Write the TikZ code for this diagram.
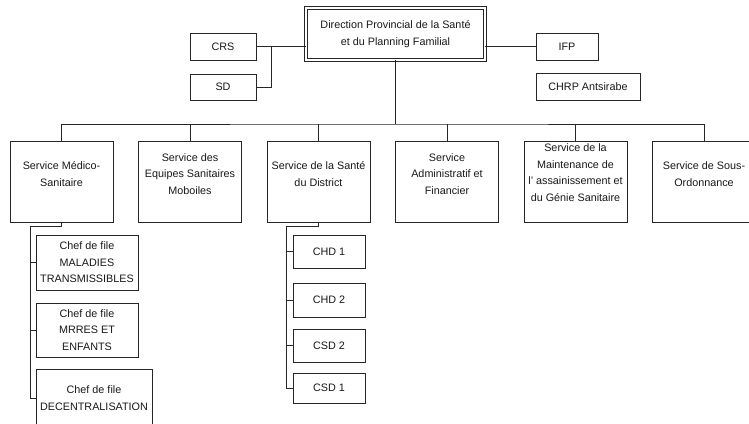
\documentclass[tikz,border=0pt]{standalone}
\usepackage{fontspec}
\setmainfont{Liberation Sans}
\usetikzlibrary{calc}
\begin{document}
\begin{tikzpicture}[x=1pt,y=-1pt,
  box/.style={draw=black!85, line width=0.95pt, inner sep=0pt, align=center,
    font=\fontsize{10.8}{16.5}\selectfont, text=black!90},
  txt/.style={align=center, font=\fontsize{10.8}{16.5}\selectfont, text=black!90, inner sep=0pt},
  svc/.style={box, minimum width=103pt, minimum height=81pt},
  chef/.style={box, minimum width=102pt},
  dist/.style={box, minimum width=72pt},
  conn/.style={draw=black!85, line width=0.95pt}]
\useasboundingbox (0,0) rectangle (749,423);
\clip (0,0) rectangle (749,423);
\fill[white] (0,0) rectangle (749,423);

% top level
\node[box, double, double distance=1.6pt, line width=0.9pt,
      minimum width=179pt, minimum height=52pt] (top) at (395.5,34)
  {Direction Provincial de la Santé\\et du Planning Familial};
\node[box, minimum width=66pt, minimum height=27pt] (crs) at (223,46.5) {CRS};
\node[box, minimum width=66pt, minimum height=26pt] (sd) at (223,87) {SD};
\node[box, minimum width=62pt, minimum height=27pt] (ifp) at (567,46.5) {IFP};
\node[box, minimum width=104pt, minimum height=27pt] (chrp) at (588,86.5) {CHRP Antsirabe};

\coordinate (j1) at ($(crs.east)+(15,0)$);
\draw[conn] (crs.east) -- (crs.east -| top.west);
\draw[conn] (sd.east) -| (j1);
\draw[conn] (ifp.west) -- (ifp.west -| top.east);

% services
\node[svc] (s1) at (61.5,181.5) {};
\node[svc] (s2) at (190,181.5) {};
\node[svc] (s3) at (318.5,181.5) {};
\node[svc] (s4) at (447,181.5) {};
\node[svc] (s5) at (575.5,181.5) {};
\node[svc] (s6) at (704,181.5) {};
\node[txt] (t1) at ([yshift=7.5pt]s1.center) {Service Médico-\\Sanitaire};
\node[txt] (t2) at ([yshift=7.5pt]s2.center) {Service des\\Equipes Sanitaires\\Moboiles};
\node[txt] (t3) at ([yshift=7.5pt]s3.center) {Service de la Santé\\du District};
\node[txt] (t4) at ([yshift=7.5pt]s4.center) {Service\\Administratif et\\Financier};
\node[txt] (t5) at ([yshift=9pt]s5.center) {Service de la\\Maintenance de\\l' assainissement et\\du Génie Sanitaire};
\node[txt] (t6) at ([yshift=7.5pt]s6.center) {Service de Sous-\\Ordonnance};

\coordinate (bus) at (395.5,124);
\draw[conn] (top.south) -- (bus);
\draw[conn] (s1.north) |- (bus) -| (s6.north);
\draw[conn] (s2.north) -- (s2.north |- bus);
\draw[conn] (s3.north) -- (s3.north |- bus);
\draw[conn] (s4.north) -- (s4.north |- bus);
\draw[conn] (s5.north) -- (s5.north |- bus);

% chefs de file
\node[chef, minimum height=55pt] (m1) at (87,262.5) {Chef de file\\MALADIES\\TRANSMISSIBLES};
\node[chef, minimum height=54pt] (m2) at (87,330) {Chef de file\\MRRES ET\\ENFANTS};
\node[box, minimum width=116pt, minimum height=58pt] (dec) at (94,398) {Chef de file\\DECENTRALISATION};
\coordinate (lx) at (30,0);
\draw[conn] (s1.south) -- ++(0,4) -| (lx |- dec.west) -- (dec.west);
\draw[conn] (m1.west) -- (m1.west -| lx);
\draw[conn] (m2.west) -- (m2.west -| lx);

% district
\node[dist, minimum height=33pt] (c1) at (329,251.5) {CHD 1};
\node[dist, minimum height=34pt] (c2) at (329,300) {CHD 2};
\node[dist, minimum height=33pt] (c3) at (329,345.5) {CSD 2};
\node[dist, minimum height=30pt] (c4) at (329,388) {CSD 1};
\coordinate (rx) at (286,0);
\draw[conn] (s3.south) -- ++(0,4) -| (rx |- c4.west) -- (c4.west);
\draw[conn] (c1.west) -- (c1.west -| rx);
\draw[conn] (c2.west) -- (c2.west -| rx);
\draw[conn] (c3.west) -- (c3.west -| rx);
\end{tikzpicture}
\end{document}
